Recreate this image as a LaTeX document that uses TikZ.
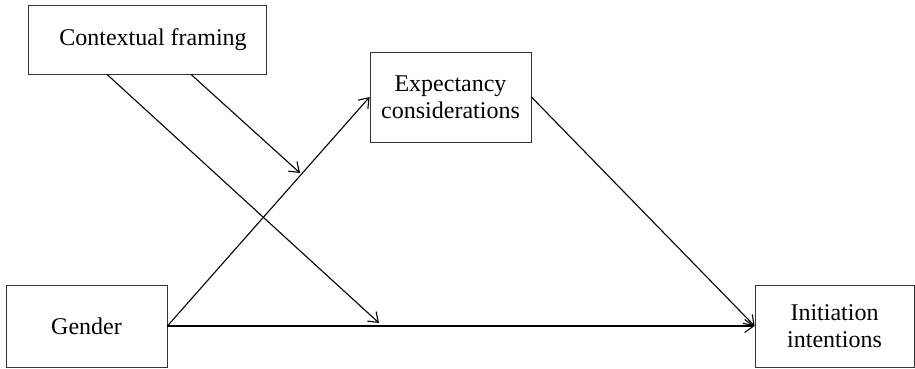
\documentclass[tikz,border=0pt]{standalone}
\usepackage{fontspec}
\setmainfont{Liberation Serif}
\usetikzlibrary{arrows.meta}
\begin{document}
\begin{tikzpicture}[x=1pt,y=1pt,>={Straight Barb[length=9pt,width=13pt]},
  varbox/.style={draw=black!80,line width=0.8pt,inner sep=0pt,align=center,
    font=\fontsize{24}{27}\selectfont},
  path/.style={line width=1.1pt,->}]
  \useasboundingbox (0,0) rectangle (915,368);
  \node[varbox,minimum width=238,minimum height=69] (frame) at (147,328.5) {\hspace{12pt}Contextual framing};
  \node[varbox,minimum width=161,minimum height=90] (expect) at (450.5,271) {Expectancy\\considerations};
  \node[varbox,minimum width=161,minimum height=82] (gender) at (86.5,42) {Gender};
  \node[varbox,minimum width=159,minimum height=82] (intent) at (834.5,42) {Initiation\\intentions};
  \coordinate (direct) at (379,45);
  \coordinate (apath) at (300,195);
  \draw[path] (gender.east) -- (intent.west);
  \draw[path] (gender.east) -- (expect.west);
  \draw[path] (expect.east) -- (intent.west);
  \draw[path] ([xshift=-40pt]frame.south) -- (direct);
  \draw[path] ([xshift=44pt]frame.south) -- (apath);
\end{tikzpicture}
\end{document}
